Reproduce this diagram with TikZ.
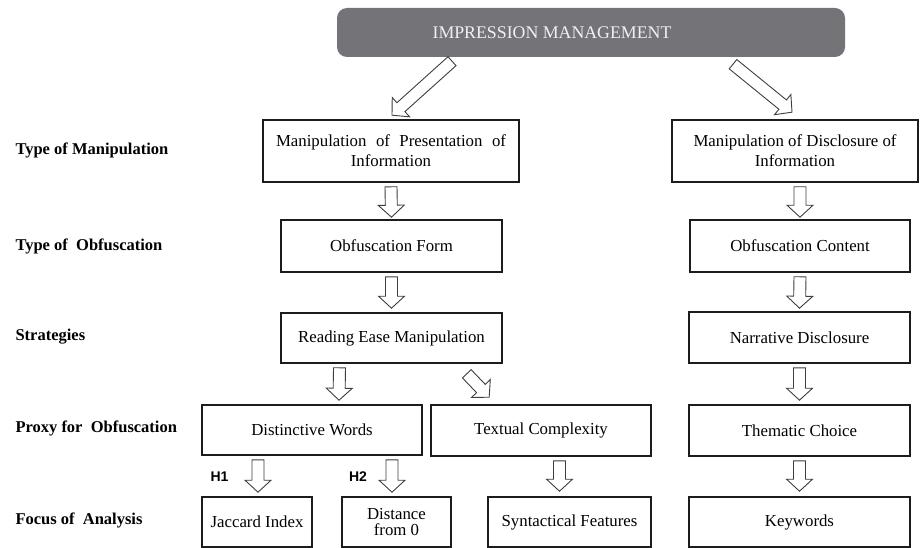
\documentclass[tikz,border=0pt]{standalone}
\usepackage{fontspec}
\setmainfont{Liberation Serif}
\newfontfamily\hypfont{Liberation Sans}
\usetikzlibrary{calc}
\definecolor{TitleGray}{HTML}{737378}
\definecolor{Ink}{HTML}{1C1C1C}

\begin{document}
\begin{tikzpicture}[x=1pt,y=-1pt,
  box/.style={draw=Ink,line width=1.6pt,align=center,inner sep=0pt,font=\fontsize{16.8}{20}\selectfont},
  head/.style={fill=TitleGray,rounded corners=10pt,text=white!94!black,minimum width=508pt,minimum height=49pt,font=\fontsize{17.8}{20}\selectfont},
  rowlab/.style={anchor=west,font=\bfseries\fontsize{16.5}{20}\selectfont},
  hyp/.style={font=\hypfont\bfseries\fontsize{14}{16}\selectfont},
  fat/.style={draw=Ink!85,line width=0.9pt,line join=miter,
    to path={let \p1=(\tikztostart),\p2=(\tikztotarget),
      \n{ang}={atan2(\y2-\y1,\x2-\x1)},\n{len}={veclen(\x2-\x1,\y2-\y1)-12} in
      ($(\p1)+(\n{ang}+90:6pt)$) -- ($(\p1)+(\n{ang}:\n{len})+(\n{ang}+90:6pt)$)
      -- ($(\p1)+(\n{ang}:\n{len})+(\n{ang}+90:13pt)$) -- (\p2)
      -- ($(\p1)+(\n{ang}:\n{len})+(\n{ang}-90:13pt)$) -- ($(\p1)+(\n{ang}:\n{len})+(\n{ang}-90:6pt)$)
      -- ($(\p1)+(\n{ang}-90:6pt)$) -- cycle}}
]
\useasboundingbox (0,0) rectangle (920,548);
\node[head] (title) at (591,32.5) {\hspace*{-78pt}IMPRESSION MANAGEMENT};
\node[rowlab] (lab1) at (12,150) {Type of Manipulation};
\node[rowlab] (lab2) at (12,246) {Type of\ \ Obfuscation};
\node[rowlab] (lab3) at (12,337) {Strategies};
\node[rowlab] (lab4) at (12,428) {Proxy for\ \ Obfuscation};
\node[rowlab] (lab5) at (12,520) {Focus of\ \ Analysis};
\node[box,minimum width=256pt,minimum height=62pt] (manpres) at (391,151) {\makebox[230pt][s]{Manipulation of Presentation of}\\Information};
\node[box,minimum width=246pt,minimum height=62pt] (mandis) at (795,151) {\makebox[203pt][s]{Manipulation of Disclosure of}\\Information};
\node[box,minimum width=221pt,minimum height=52pt] (obform) at (391.5,246) {Obfuscation Form};
\node[box,minimum width=220pt,minimum height=52pt] (obcont) at (800,246) {Obfuscation Content};
\node[box,minimum width=221pt,minimum height=50pt] (reading) at (391.5,338) {Reading Ease Manipulation};
\node[box,minimum width=221pt,minimum height=51pt] (narr) at (799.5,337.5) {Narrative Disclosure};
\node[box,minimum width=220pt,minimum height=50pt] (distinct) at (312,430) {Distinctive Words};
\node[box,minimum width=220pt,minimum height=51pt] (textual) at (541,430.5) {Textual Complexity};
\node[box,minimum width=221pt,minimum height=51pt] (thematic) at (799.5,430.5) {Thematic Choice};
\node[box,minimum width=110pt,minimum height=50pt] (jaccard) at (257,522) {Jaccard Index};
\node[box,minimum width=109pt,minimum height=50pt,font=\fontsize{16.8}{16}\selectfont] (distance) at (396.5,522) {Distance\\from 0};
\node[box,minimum width=163pt,minimum height=50pt] (syntact) at (569.5,522) {Syntactical Features};
\node[box,minimum width=221pt,minimum height=50pt] (keywords) at (799.5,522) {Keywords};
\node[hyp] (h1) at (219.5,477) {H1};
\node[hyp] (h2) at (358,477) {H2};
\draw[fat] ($(title.south)+(-139,4)$) to ($(manpres.north)+(1,-4)$);
\draw[fat] ($(title.south)+(142,7)$) to ($(mandis.north)+(-3,-7)$);
\draw[fat] ($(manpres.south)+(0,4)$) to ($(obform.north)+(0,-2)$);
\draw[fat] ($(obcont.north |- mandis.south)+(0,4)$) to ($(obcont.north)+(0,-2)$);
\draw[fat] ($(obform.south)+(0,4)$) to ($(reading.north)+(0,-4)$);
\draw[fat] ($(obcont.south)+(0,4)$) to ($(narr.north)+(0,-3)$);
\draw[fat] ($(reading.south)+(-52,4)$) to ($(distinct.north)+(27,-4)$);
\draw[fat] ($(reading.south east)+(-36,10)$) to ($(textual.north west)+(59,-7)$);
\draw[fat] ($(narr.south)+(0,4)$) to ($(thematic.north)+(0,-4)$);
\draw[fat] ($(textual.south)+(18.5,4)$) to ($(syntact.north)+(-10,-5)$);
\draw[fat] ($(thematic.south)+(0,4)$) to ($(keywords.north)+(0,-5)$);
\draw[fat] ($(distinct.south)+(-54,4)$) to ($(jaccard.north)+(1,-4)$);
\draw[fat] ($(distinct.south)+(80,4)$) to ($(distance.north)+(-4.5,-4)$);
\end{tikzpicture}
\end{document}
